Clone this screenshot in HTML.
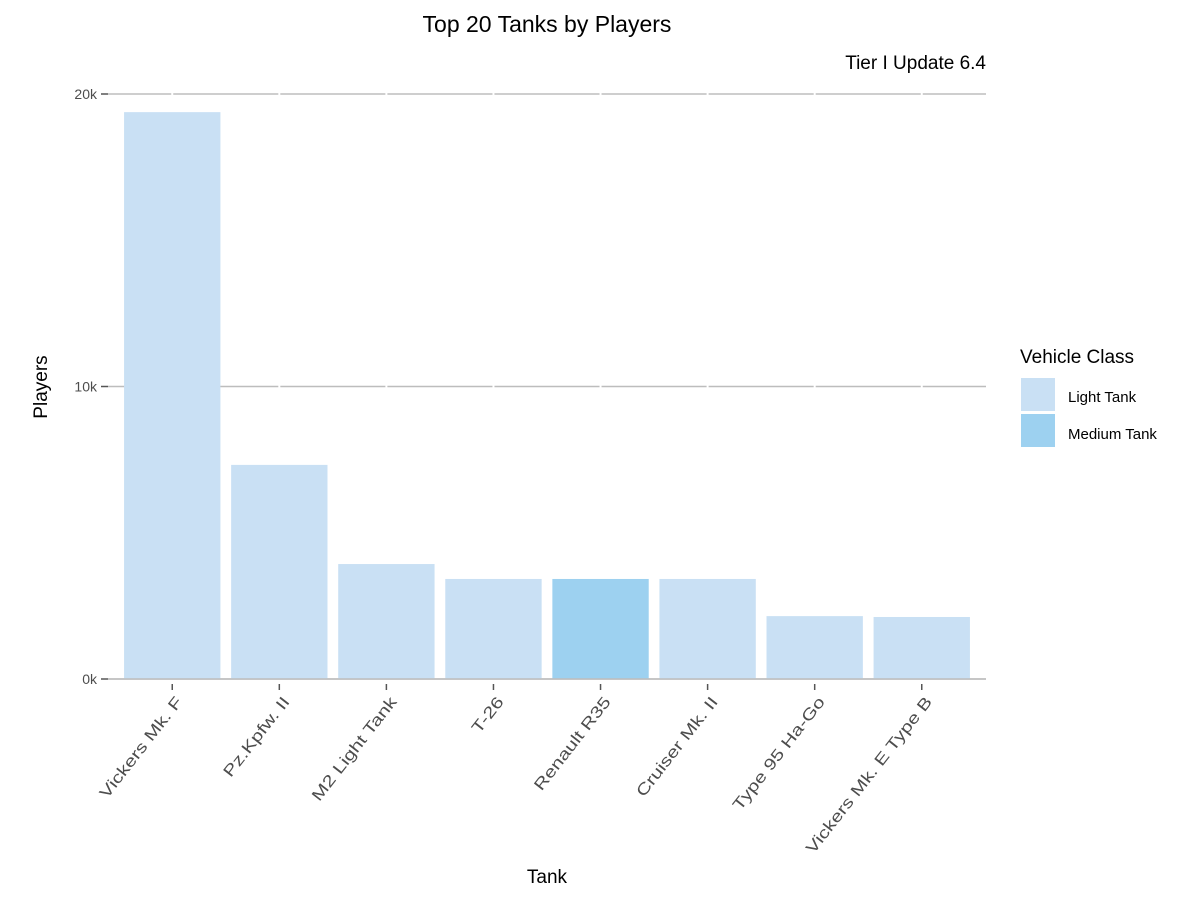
<!DOCTYPE html>
<html><head><meta charset="utf-8"><style>
body{margin:0;background:#fff;}
svg text{font-family:"Liberation Sans",Arial,sans-serif;}
</style></head><body>
<svg id="chart" width="1200" height="900">
<text x="547" y="32" text-anchor="middle" font-size="23" fill="#000">Top 20 Tanks by Players</text>
<text x="986" y="69" text-anchor="end" font-size="19" fill="#000">Tier I Update 6.4</text>
<g id="grid"></g><g id="bars"></g><g id="xaxis"></g><g id="yaxis"></g>
<text x="47" y="387" text-anchor="middle" font-size="19" transform="rotate(-90 47 387)">Players</text>
<text x="547" y="883" text-anchor="middle" font-size="19">Tank</text>
<g>
<text x="1020" y="363" font-size="19">Vehicle Class</text>
<rect x="1021" y="378" width="34" height="33" fill="#c9e0f4"/>
<text x="1068" y="402" font-size="15">Light Tank</text>
<rect x="1021" y="414" width="34" height="33" fill="#9dd1f0"/>
<text x="1068" y="439" font-size="15">Medium Tank</text>
</g>
</svg>
<script>
const categories=["Vickers Mk. F","Pz.Kpfw. II","M2 Light Tank","T-26","Renault R35","Cruiser Mk. II","Type 95 Ha-Go","Vickers Mk. E Type B"];
const players=[19380,7320,3930,3420,3420,3420,2150,2120];
const classes=["Light","Light","Light","Light","Medium","Light","Light","Light"];
const yTicks=[0,10000,20000];
const yTickLabels=["0k","10k","20k"];
const NS="http://www.w3.org/2000/svg";
const x0=108,x1=986,step=(x1-x0)/(categories.length+0.2);
const xc=i=>x0+step*(0.6+i);
const y=v=>679-v*(679-94)/20000;
function mk(tag,attrs,parent){const e=document.createElementNS(NS,tag);for(const k in attrs)e.setAttribute(k,attrs[k]);document.getElementById(parent).appendChild(e);return e;}
yTicks.forEach((t,i)=>{
 const l=mk('line',{x1:x0,x2:x1,y1:y(t),y2:y(t),stroke:'#bdbdbd','stroke-width':1.5},'grid');
 
 
 const tk=mk('line',{x1:101,x2:x0,y1:y(t),y2:y(t),stroke:'#555','stroke-width':1.5},'yaxis');
 
 
 const tx=mk('text',{x:97,y:y(t)+5,'text-anchor':'end','font-size':14,fill:'#4d4d4d'},'yaxis');
 tx.textContent=yTickLabels[i];
 
 
});
categories.forEach((c,i)=>{
 const g=mk('line',{x1:xc(i),x2:xc(i),y1:85,y2:679,stroke:'#fff','stroke-width':2},'grid');
 
 
 const w=step*0.9;
 const r=mk('rect',{x:xc(i)-w/2,y:y(players[i]),width:w,height:679-y(players[i]),fill:classes[i]==='Medium'?'#9dd1f0':'#c9e0f4'},'bars');
 
 
 const tk=mk('line',{x1:xc(i),x2:xc(i),y1:684,y2:690,stroke:'#555','stroke-width':1.5},'xaxis');
 
 
 const lx=xc(i)+11,ly=702;
 const tx=mk('text',{x:0,y:0,'text-anchor':'end','font-size':16,fill:'#4d4d4d',transform:`translate(${lx} ${ly}) rotate(-52) scale(1.28 1)`},'xaxis');
 tx.textContent=c;
 
 
});
const bl=mk('line',{x1:x0,x2:x1,y1:679,y2:679,stroke:'#bdbdbd','stroke-width':1.5},'bars');


</script>
</body></html>
